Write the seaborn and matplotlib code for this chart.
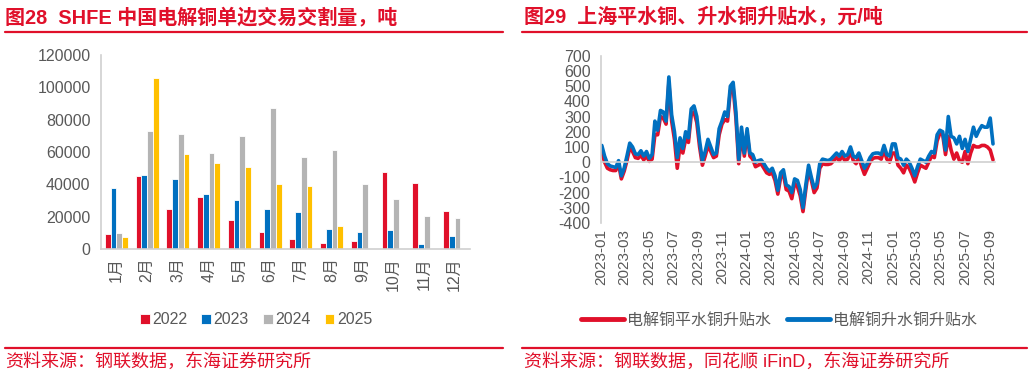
import matplotlib
matplotlib.use("Agg")
import matplotlib.pyplot as plt
import matplotlib.dates as mdates
from matplotlib.lines import Line2D
import pandas as pd
import seaborn as sns
import numpy as np

# ---- data: 图28 交割量 (吨) ----
meses = ["1月", "2月", "3月", "4月", "5月", "6月", "7月", "8月", "9月", "10月", "11月", "12月"]
anios = ["2022", "2023", "2024", "2025"]
v2022 = [9500, 45000, 24500, 32000, 18000, 10500, 6000, 4000, 5000, 47500, 41000, 23500]
v2023 = [38000, 45500, 43500, 34000, 30000, 25000, 23000, 12500, 10500, 12000, 3000, 8000]
v2024 = [10000, 73000, 71000, 59500, 70000, 87500, 57000, 61000, 40000, 31000, 20500, 19000]
v2025 = [7500, 106000, 58500, 53500, 50500, 40000, 39000, 14500, np.nan, np.nan, np.nan, np.nan]

# ---- data: 图29 升贴水 (元/吨), weekly ----
fecha_inicio = "2023-01-03"
shengshui = [110, 40, -10, -25, -30, -35, 10, -90, -40, 40,
             125, 100, 55, 50, 75, 40, 70, 25, 50, 270,
             210, 340, 330, 270, 560, 310, 200, 30, 160, 90,
             200, 160, 350, 370, 300, 140, 10, 70, 150, 100,
             50, 60, 220, 270, 330, 300, 500, 525, 330, 20,
             230, 60, 220, 60, 50, 0, 10, 15, -10, -40,
             -60, -40, -90, -185, -70, -50, -150, -160, -200, -110,
             -120, -180, -300, -150, -20, -100, -170, -140, -10, 20,
             15, 10, 20, 40, 60, 40, 70, 40, 50, 100,
             40, 30, 60, 10, -40, -10, 30, 55, 60, 60,
             50, 110, 50, 40, 120, 120, 30, 20, -20, 20,
             0, -40, -90, -30, 20, 10, 0, 40, 70, 60,
             180, 210, 200, 80, 300, 170, 160, 120, 170, 90,
             150, 70, 150, 230, 170, 210, 240, 230, 230, 290,
             120]
pingshui = [70, 0, -40, -50, -55, -55, -10, -110, -60, 10,
            95, 70, 30, 25, 45, 15, 40, 5, 20, 180,
            180, 300, 290, 250, 520, 270, 150, -40, 110, 60,
            150, 130, 310, 330, 260, 100, -20, 40, 110, 70,
            30, 40, 180, 250, 280, 270, 470, 490, 290, -10,
            190, 40, 190, 40, 20, -30, -20, -10, -40, -70,
            -80, -70, -120, -210, -100, -80, -180, -190, -240, -140,
            -160, -220, -325, -180, -50, -120, -200, -170, -40, -10,
            -15, -15, -10, 10, 30, 10, 40, 10, 20, 70,
            10, -10, 30, -30, -80, -40, 0, 25, 30, 30,
            20, 80, 20, 0, 60, 60, -20, -40, -70, -20,
            -40, -80, -130, -70, -20, -30, -40, 0, 40, 30,
            140, 190, 180, 50, 170, 80, 20, 60, 10, 0,
            70, -10, 60, 110, 100, 100, 110, 110, 100, 80,
            15]

ROJO = "#E0102A"
AZUL = "#0070C0"
GRIS = "#B4B4B4"
AMARILLO = "#FFC000"
TEXTO = "#595959"
EJE = "#D0D0D0"

df_barras = pd.DataFrame({
    "月份": meses * 4,
    "年份": [a for a in anios for _ in meses],
    "交割量": v2022 + v2023 + v2024 + v2025,
})

fechas = pd.date_range(fecha_inicio, periods=len(shengshui), freq="7D")
df_lineas = pd.concat([
    pd.DataFrame({"日期": fechas, "值": pingshui, "系列": "电解铜平水铜升贴水"}),
    pd.DataFrame({"日期": fechas, "值": shengshui, "系列": "电解铜升水铜升贴水"}),
])

sns.set_style("white")
plt.rcParams["font.family"] = ["Liberation Sans", "Noto Sans CJK SC", "DejaVu Sans"]
plt.rcParams["axes.unicode_minus"] = False

fig = plt.figure(figsize=(10.32, 3.77), dpi=100)

# ---- left panel ----
ax1 = fig.add_axes([101 / 1032, 1 - 249 / 377, 369 / 1032, 194 / 377])
sns.barplot(data=df_barras, x="月份", y="交割量", hue="年份", ax=ax1,
            palette=[ROJO, AZUL, GRIS, AMARILLO], saturation=1, width=0.75,
            edgecolor="white", linewidth=0.6, errorbar=None)
ax1.set_xlim(-0.5, 11.5)
ax1.set_ylim(0, 120000)
ax1.set_yticks(range(0, 120001, 20000))
ax1.set_yticklabels([str(v) for v in range(0, 120001, 20000)])
ax1.set_xticks(range(12))
ax1.set_xticklabels(meses, rotation=90)
ax1.set_xticks(np.arange(-0.5, 12, 1), minor=True)
ax1.tick_params(axis="x", which="major", length=0, pad=6, labelsize=11.5, colors=TEXTO)
ax1.tick_params(axis="x", which="minor", length=5, color=EJE, width=1.2, direction="out")
ax1.tick_params(axis="y", length=4, width=1.2, labelsize=11.5, colors=TEXTO, direction="out")
ax1.tick_params(axis="y", color=EJE)
for s in ["top", "right"]:
    ax1.spines[s].set_visible(False)
for s in ["left", "bottom"]:
    ax1.spines[s].set_color(EJE)
    ax1.spines[s].set_linewidth(1.2)
ax1.set(xlabel=None, ylabel=None)
h1, l1 = ax1.get_legend_handles_labels()
ax1.get_legend().remove()
fig.legend(h1, l1, loc="center", bbox_to_anchor=(256 / 1032, 1 - 320 / 377), ncol=4,
           frameon=False, fontsize=11.5, handlelength=0.6, handleheight=0.6,
           handletextpad=0.15, columnspacing=0.9, labelcolor=TEXTO)

# ---- right panel ----
ax2 = fig.add_axes([601 / 1032, 1 - 223 / 377, 394 / 1032, 167.3 / 377])
sns.lineplot(data=df_lineas, x="日期", y="值", hue="系列", ax=ax2,
             palette=[ROJO, AZUL], linewidth=2.6, legend=False)
ax2.set_ylim(-400, 700)
ax2.set_yticks(range(-400, 701, 100))
ax2.set_xlim(pd.Timestamp("2023-01-01"), pd.Timestamp("2025-09-14"))
ax2.xaxis.set_major_locator(mdates.MonthLocator(bymonth=[1, 3, 5, 7, 9, 11]))
ax2.xaxis.set_major_formatter(mdates.DateFormatter("%Y-%m"))
ax2.spines["bottom"].set_position(("data", 0))
for s in ["top", "right"]:
    ax2.spines[s].set_visible(False)
for s in ["left", "bottom"]:
    ax2.spines[s].set_color(EJE)
    ax2.spines[s].set_linewidth(1.2)
ax2.tick_params(axis="x", length=4, width=1.2, pad=44, labelsize=11,
                colors=TEXTO, labelrotation=90, direction="out")
ax2.tick_params(axis="x", color=EJE)
ax2.tick_params(axis="y", length=4, width=1.2, labelsize=11.5, colors=TEXTO, direction="out")
ax2.tick_params(axis="y", color=EJE)
ax2.set(xlabel=None, ylabel=None)
h2 = [Line2D([0], [0], color=ROJO, lw=3.5), Line2D([0], [0], color=AZUL, lw=3.5)]
fig.legend(h2, ["电解铜平水铜升贴水", "电解铜升水铜升贴水"], loc="center",
           bbox_to_anchor=(779 / 1032, 1 - 320 / 377), ncol=2, frameon=False,
           fontsize=11.5, handlelength=2.7, handletextpad=0.2, columnspacing=1.0,
           labelcolor=TEXTO)

# ---- titles, rules and sources ----
fig.text(5 / 1032, 1 - 17 / 377, "图28  SHFE 中国电解铜单边交易交割量，吨", color=ROJO,
         fontsize=14.4, fontweight="bold", va="center", ha="left")
fig.text(524 / 1032, 1 - 17 / 377, "图29  上海平水铜、升水铜升贴水，元/吨", color=ROJO,
         fontsize=14.4, fontweight="bold", va="center", ha="left")
for x0, x1 in [(5, 503), (522, 1027)]:
    fig.add_artist(Line2D([x0 / 1032, x1 / 1032], [1 - 32 / 377] * 2, color=ROJO, lw=1.6))
    fig.add_artist(Line2D([x0 / 1032, x1 / 1032], [1 - 348 / 377] * 2, color=ROJO, lw=1.6))
fig.text(5 / 1032, 1 - 362 / 377, "资料来源：钢联数据，东海证券研究所", color=ROJO,
         fontsize=13, va="center", ha="left")
fig.text(524 / 1032, 1 - 362 / 377, "资料来源：钢联数据，同花顺 iFinD，东海证券研究所", color=ROJO,
         fontsize=13, va="center", ha="left")

fig.savefig("out.png", dpi=100)
